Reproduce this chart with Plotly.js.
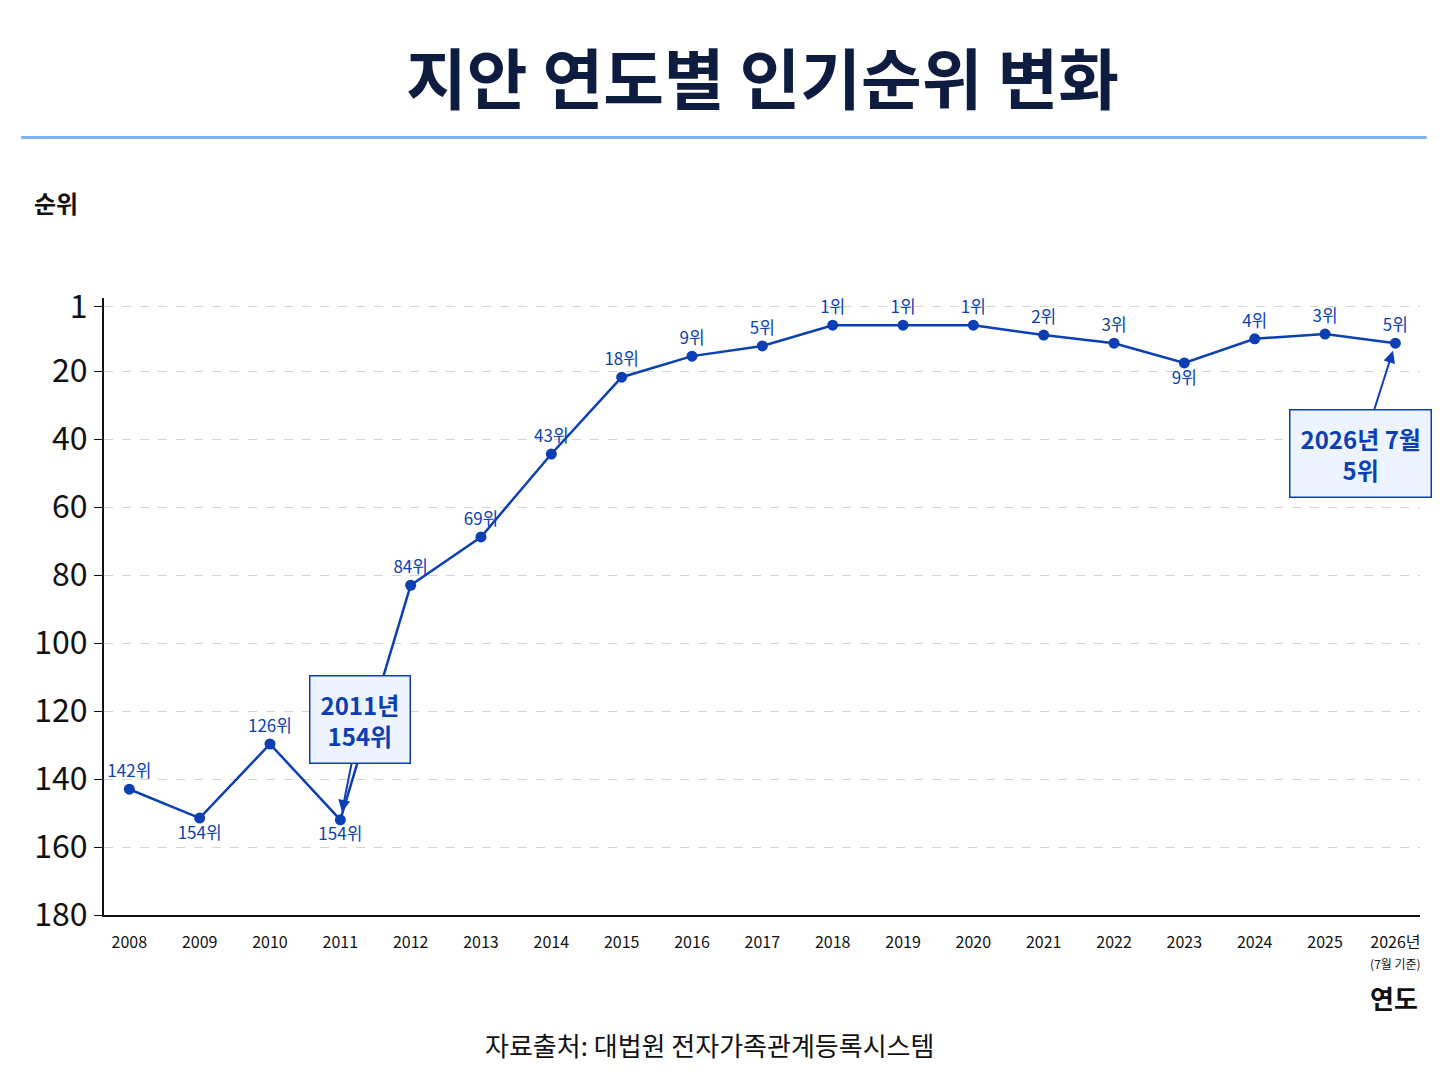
<!DOCTYPE html>
<html><head><meta charset="utf-8">
<script src="https://cdn.plot.ly/plotly-3.0.1.min.js"></script>
<style>body{margin:0;background:#fff}</style>
</head><body><div id="chart" style="width:1448px;height:1086px"></div>
<script>
// 연도, 그림에서 읽은 점 위치(순위 축), 표기된 순위
const years = ['2008','2009','2010','2011','2012','2013','2014','2015','2016','2017','2018','2019','2020','2021','2022','2023','2024','2025','2026'];
const yearLabels = ['2008','2009','2010','2011','2012','2013','2014','2015','2016','2017','2018','2019','2020','2021','2022','2023','2024','2025','2026년<br><span style="font-size:12px">(7월 기준)</span>'];
const plotted = [143,151.5,129.7,152,83,68.8,44.4,21.8,15.6,12.6,6.5,6.5,6.5,9.4,11.8,17.6,10.5,9.1,11.8];
const rankText = ['142위','154위','126위','154위','84위','69위','43위','18위','9위','5위','1위','1위','1위','2위','3위','9위','4위','3위','5위'];
const below = [false,true,false,true,false,false,false,false,false,false,false,false,false,false,false,true,false,false,false];
const yTicks = [1,20,40,60,80,100,120,140,160,180];

const blue = '#0b3fb3';
const font = 'Noto Sans CJK KR';

const box = {xref:'x', yref:'y', showarrow:true, arrowhead:2, arrowsize:1.2, arrowwidth:2, arrowcolor:blue,
  bgcolor:'#eef4ff', bordercolor:blue, borderwidth:1.5, borderpad:10,
  font:{size:24,color:blue,family:font}};

const callouts = [
  Object.assign({}, box, {x:3, y:plotted[3], text:'<b>2011년<br>154위</b>', ax:20, ay:-100, standoff:8}),
  Object.assign({}, box, {x:11, y:-2, text:'<b>2018년<br>1위</b>', ax:0, ay:-70, standoff:2}),
  Object.assign({}, box, {x:18, y:plotted[18], text:'<b>2026년 7월<br>5위</b>', ax:-35, ay:110, standoff:8})
];

const layout = {
  width:1448, height:1086, paper_bgcolor:'#fff', plot_bgcolor:'#fff',
  margin:{l:104,r:28,t:298,b:171},
  showlegend:false,
  font:{family:font,color:'#111'},
  xaxis:{type:'category', range:[-0.36,18.35], tickvals:years, ticktext:yearLabels,
    tickfont:{size:16,color:'#111'}, showgrid:false, showline:true, linecolor:'#111', linewidth:2, ticks:'', ticklabelstandoff:12},
  yaxis:{range:[180,-1.5], tickvals:yTicks, ticktext:yTicks.map(String), tickfont:{size:32,color:'#111'},
    showgrid:true, gridcolor:'#d4d4d4', griddash:'dash', zeroline:false,
    showline:true, linecolor:'#111', linewidth:2, ticks:'outside', ticklen:8, tickcolor:'#111'},
  shapes:[{type:'line',xref:'paper',yref:'paper',x0:-0.063,x1:1.005,y0:1.26,y1:1.26,line:{color:'#7fb2ee',width:3}}],
  annotations:[
    {xref:'paper',yref:'paper',x:0.5,y:1.361,yanchor:'middle',showarrow:false,
     text:'<b>지안 연도별 인기순위 변화</b>', font:{size:66,color:'#0e1c3f',family:font}},
    {xref:'paper',yref:'paper',x:-0.055,y:1.154,xanchor:'left',yanchor:'middle',showarrow:false,
     text:'<b>순위</b>', font:{size:24,color:'#111',family:font}},
    {xref:'paper',yref:'paper',x:1.0,y:-0.133,xanchor:'right',yanchor:'middle',showarrow:false,
     text:'<b>연도</b>', font:{size:26,color:'#111',family:font}},
    {xref:'paper',yref:'paper',x:0.46,y:-0.21,yanchor:'middle',showarrow:false,
     text:'자료출처: 대법원 전자가족관계등록시스템', font:{size:26,color:'#111',family:font}}
  ].concat(callouts)
};

Plotly.newPlot('chart', [{
  x:years, y:plotted, type:'scatter', mode:'lines+markers+text',
  text:rankText, textposition:below.map(b => b ? 'bottom center' : 'top center'),
  textfont:{size:17,color:blue,family:font},
  line:{color:blue,width:2.5}, marker:{color:blue,size:11}, hoverinfo:'skip', cliponaxis:false
}], layout, {displayModeBar:false, staticPlot:true});
</script></body></html>
